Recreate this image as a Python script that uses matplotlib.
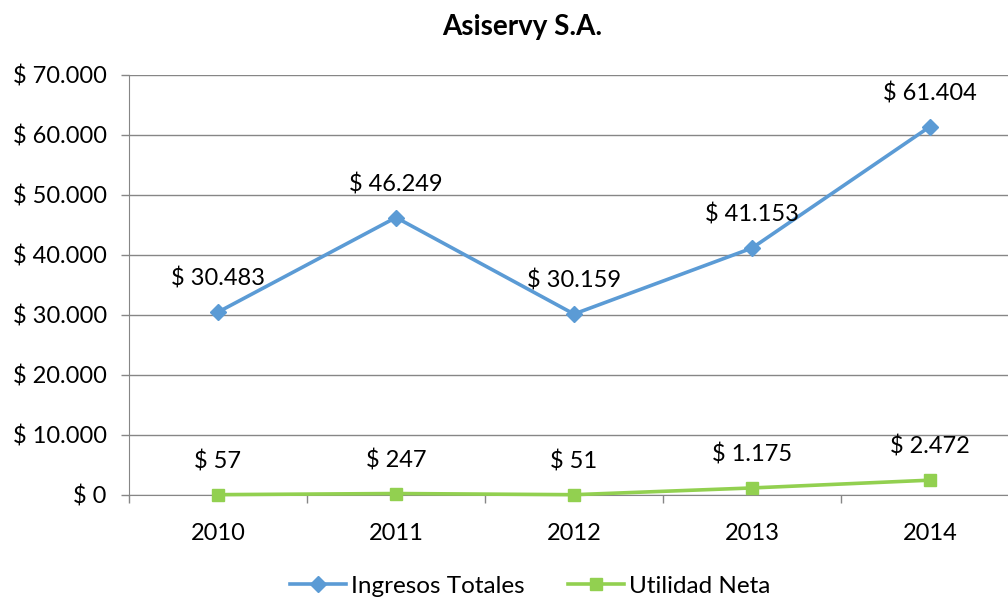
import matplotlib.pyplot as plt

plt.rcParams['font.family'] = ['Lato', 'DejaVu Sans']

years = ['2010', '2011', '2012', '2013', '2014']
ingresos = [30483, 46249, 30159, 41153, 61404]
utilidad = [57, 247, 51, 1175, 2472]


def pesos(v):
    return '$ ' + f'{v:,.0f}'.replace(',', '.')


fig = plt.figure(figsize=(10.08, 5.98), dpi=100)
ax = fig.add_axes([129 / 1008, 1 - 495 / 598, 890 / 1008, 420 / 598])

x = list(range(len(years)))
ax.plot(x, ingresos, color='#5B9BD5', lw=2.6, marker='D', ms=8,
        label='Ingresos Totales', zorder=3, clip_on=False)
ax.plot(x, utilidad, color='#92D050', lw=2.6, marker='s', ms=9,
        label='Utilidad Neta', zorder=3, clip_on=False)

for xi, v in zip(x, ingresos):
    ax.annotate(pesos(v), (xi, v), xytext=(0, 24), textcoords='offset points',
                ha='center', va='center', fontsize=17)
for xi, v in zip(x, utilidad):
    ax.annotate(pesos(v), (xi, v), xytext=(0, 24), textcoords='offset points',
                ha='center', va='center', fontsize=17)

ax.set_xlim(-0.5, len(years) - 0.5)
ax.set_ylim(0, 70000)
ax.set_yticks(range(0, 70001, 10000))
ax.set_yticklabels([pesos(v) for v in range(0, 70001, 10000)], fontsize=17)
ax.set_xticks(x)
ax.set_xticklabels(years, fontsize=17)
ax.set_xticks([i - 0.5 for i in range(len(years) + 1)], minor=True)
ax.tick_params(axis='x', which='major', length=0, pad=20)
ax.tick_params(axis='x', which='minor', length=6, color='#868686', width=1)
ax.tick_params(axis='y', length=6, color='#868686', width=1, pad=10)

ax.grid(axis='y', color='#868686', lw=1)
ax.set_axisbelow(True)
for s in ['top', 'right']:
    ax.spines[s].set_visible(False)
ax.spines['left'].set_color('#868686')
ax.spines['bottom'].set_color('#868686')

fig.text(522 / 1008, 1 - 27 / 598, 'Asiservy S.A.', ha='center', va='center',
         fontsize=20, fontweight='bold')

fig.legend(loc='center', bbox_to_anchor=(530 / 1008, 1 - 586 / 598), ncol=2,
           frameon=False, fontsize=17.5, handlelength=2.3, columnspacing=1.8,
           handletextpad=0.2)

fig.savefig('out.png', dpi=100)
